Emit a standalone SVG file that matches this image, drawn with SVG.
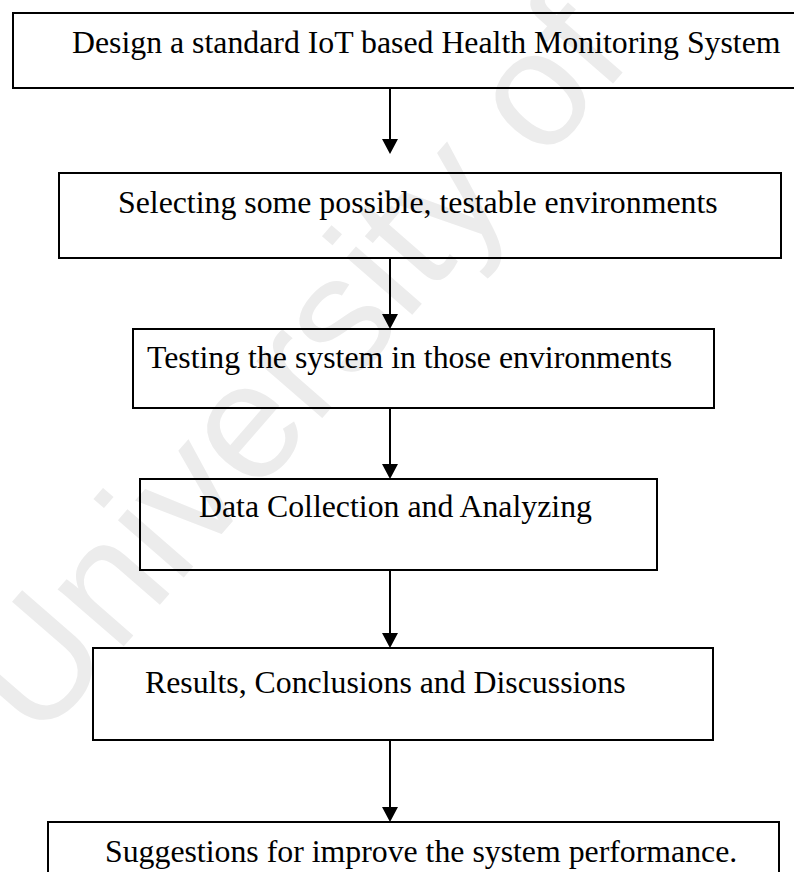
<svg xmlns="http://www.w3.org/2000/svg" width="794" height="872" viewBox="0 0 794 872">
<style>
.box{fill:none;stroke:#000;stroke-width:2}
.lbl{font-family:"Liberation Serif","Times New Roman",serif;font-size:31.8px;fill:#000}
.wm{font-family:"Liberation Sans",Arial,sans-serif;font-size:165px;fill:#ececec}
.conn line{stroke:#000;stroke-width:2}
.conn polygon{fill:#000}
</style>
<rect width="794" height="872" fill="#fff"/>
<text class="wm" transform="translate(38,745) rotate(-49)">University of</text>
<g id="n1"><rect class="box" x="13" y="13" width="800" height="75"/><text class="lbl" x="72" y="53">Design a standard IoT based Health Monitoring System</text></g>
<g id="n2"><rect class="box" x="59" y="173" width="722" height="85"/><text class="lbl" x="118" y="213">Selecting some possible, testable environments</text></g>
<g id="n3"><rect class="box" x="133" y="329" width="581" height="79"/><text class="lbl" x="147" y="368">Testing the system in those environments</text></g>
<g id="n4"><rect class="box" x="140" y="479" width="517" height="91"/><text class="lbl" x="199" y="517">Data Collection and Analyzing</text></g>
<g id="n5"><rect class="box" x="93" y="648" width="620" height="92"/><text class="lbl" x="145" y="693">Results, Conclusions and Discussions</text></g>
<g id="n6"><rect class="box" x="48" y="822" width="731" height="72"/><text class="lbl" x="105" y="862">Suggestions for improve the system performance.</text></g>
<g class="conn">
<line x1="390" y1="88" x2="390" y2="140"/><polygon points="382,139 398,139 390,154"/>
<line x1="390" y1="258" x2="390" y2="315"/><polygon points="382,314 398,314 390,329"/>
<line x1="390" y1="408" x2="390" y2="465"/><polygon points="382,464 398,464 390,479"/>
<line x1="390" y1="570" x2="390" y2="634"/><polygon points="382,633 398,633 390,648"/>
<line x1="390" y1="740" x2="390" y2="808"/><polygon points="382,807 398,807 390,822"/>
</g>
</svg>
